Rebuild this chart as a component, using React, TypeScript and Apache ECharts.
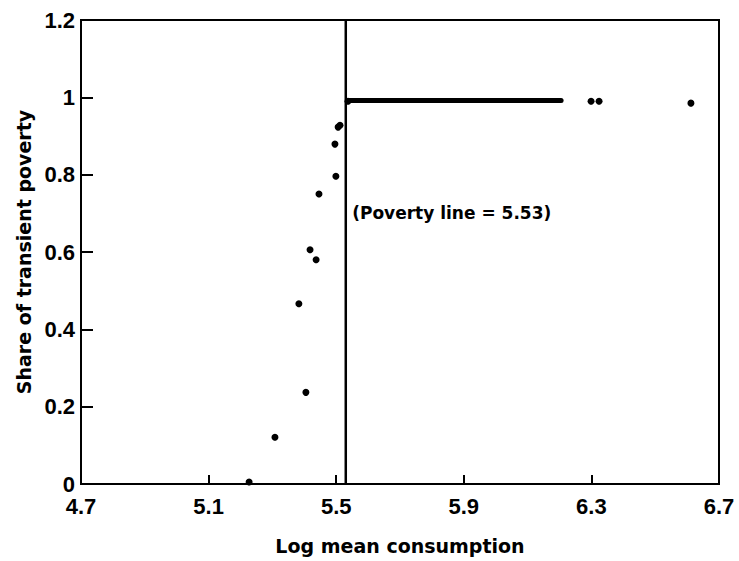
import React, { useEffect, useRef } from "react";
import * as echarts from "echarts";

// Scatter points (log mean consumption, share of transient poverty)
const pointX = [5.227, 5.308, 5.383, 5.405, 5.418, 5.437, 5.446, 5.499, 5.496, 5.506, 5.512, 5.537, 6.299, 6.324, 6.612];
const pointY = [0.005, 0.121, 0.466, 0.237, 0.606, 0.58, 0.75, 0.796, 0.879, 0.923, 0.928, 0.99, 0.99, 0.99, 0.985];

// Dense run of points forming the thick plateau line
const plateauX = [5.537, 6.205];
const plateauY = [0.992, 0.992];

const povertyLine = 5.53;
const povertyLabel = "(Poverty line = 5.53)";
const labelAnchor = [5.55, 0.7];

const xTicks = [4.7, 5.1, 5.5, 5.9, 6.3, 6.7];
const yMin = 0;
const yMax = 1.2;
const yStep = 0.2;

const xTitle = "Log mean consumption";
const yTitle = "Share of transient poverty";

export default function App() {
  const ref = useRef<HTMLDivElement>(null);
  useEffect(() => {
    if (!ref.current) return;
    const chart = echarts.init(ref.current, null, { renderer: "svg" });
    const tickFont = {
      fontFamily: "Liberation Sans, Arial, sans-serif",
      fontWeight: "bold" as const,
      fontSize: 22,
      lineHeight: 16,
      color: "#000",
    };
    const titleFont = {
      fontFamily: "DejaVu Sans, sans-serif",
      fontWeight: "bold" as const,
      fontSize: 19,
      lineHeight: 20,
      color: "#000",
    };
    chart.setOption({
      animation: false,
      backgroundColor: "#fff",
      grid: { left: 81, right: 20, top: 20, bottom: 76, show: true, borderColor: "#000", borderWidth: 2 },
      xAxis: {
        type: "value",
        min: xTicks[0],
        max: xTicks[xTicks.length - 1],
        name: xTitle,
        nameLocation: "middle",
        nameGap: 52,
        nameTextStyle: titleFont,
        axisLine: { show: true, onZero: false, lineStyle: { color: "#000", width: 2 } },
        axisTick: { show: true, inside: true, length: 9, customValues: xTicks, lineStyle: { color: "#000", width: 2 } },
        axisLabel: { customValues: xTicks, margin: 14, ...tickFont, formatter: (v: number) => v.toFixed(1) },
        splitLine: { show: false },
      },
      yAxis: {
        type: "value",
        min: yMin,
        max: yMax,
        interval: yStep,
        name: yTitle,
        nameLocation: "middle",
        nameGap: 44,
        nameTextStyle: titleFont,
        axisLine: { show: true, lineStyle: { color: "#000", width: 2 } },
        axisTick: { show: true, inside: true, length: 12, lineStyle: { color: "#000", width: 2 } },
        axisLabel: { margin: 6, ...tickFont },
        splitLine: { show: false },
      },
      series: [
        {
          type: "line",
          data: [[povertyLine, yMin], [povertyLine, yMax]],
          symbol: "none",
          lineStyle: { color: "#000", width: 2.5 },
          silent: true,
        },
        {
          type: "line",
          data: plateauX.map((x, i) => [x, plateauY[i]]),
          symbol: "none",
          lineStyle: { color: "#000", width: 5, cap: "round" },
          silent: true,
        },
        {
          type: "scatter",
          data: pointX.map((x, i) => [x, pointY[i]]),
          symbol: "circle",
          symbolSize: 7,
          itemStyle: { color: "#000", opacity: 1 },
        },
        {
          type: "scatter",
          data: [labelAnchor],
          symbolSize: 0,
          itemStyle: { color: "#000", opacity: 1 },
          label: {
            show: true,
            position: "right",
            distance: 0,
            formatter: povertyLabel,
            fontFamily: "DejaVu Sans, sans-serif",
            fontWeight: "bold",
            fontSize: 17,
            color: "#000",
            opacity: 1,
          },
        },
      ],
    });
    return () => chart.dispose();
  }, []);
  return (
    <div
      ref={ref}
      style={{ position: "fixed", left: 0, top: 0, width: 739, height: 561 }}
    />
  );
}
